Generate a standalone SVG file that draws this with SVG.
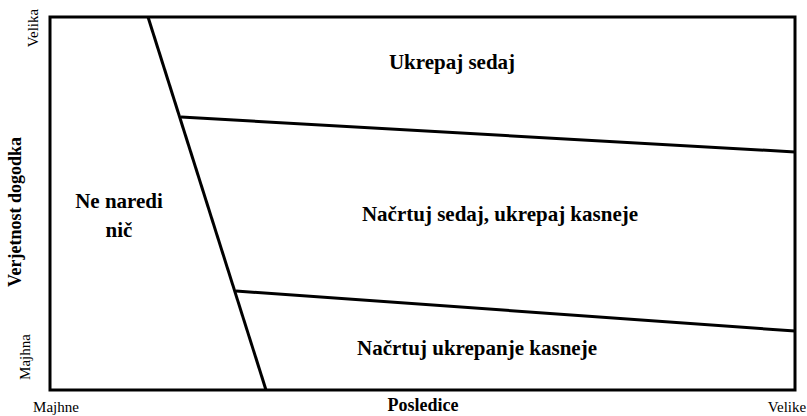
<svg xmlns="http://www.w3.org/2000/svg" width="807" height="416" viewBox="0 0 807 416">
  <style>
    .ln { stroke: #000; stroke-width: 3; fill: none; }
    .zone { font-family: 'Liberation Serif', serif; font-weight: bold; font-size: 21px; fill: #000; text-anchor: middle; }
    .axis { font-family: 'Liberation Serif', serif; font-size: 15px; fill: #000; text-anchor: middle; }
    .axisb { font-family: 'Liberation Serif', serif; font-weight: bold; font-size: 18px; fill: #000; text-anchor: middle; }
  </style>
  <rect width="807" height="416" fill="#fff"/>

  <!-- frame and zone boundaries -->
  <g id="connectors">
    <rect class="ln" x="50" y="17" width="745" height="373"/>
    <line class="ln" x1="148" y1="17" x2="266" y2="390"/>
    <line class="ln" x1="181" y1="117" x2="795" y2="152"/>
    <line class="ln" x1="236" y1="291" x2="795" y2="331"/>
  </g>

  <g id="zone-none">
    <text class="zone" x="119" y="208">Ne naredi</text>
    <text class="zone" x="119" y="237">nič</text>
  </g>
  <g id="zone-act-now">
    <text class="zone" x="452" y="69">Ukrepaj sedaj</text>
  </g>
  <g id="zone-plan-now">
    <text class="zone" x="500" y="221">Načrtuj sedaj, ukrepaj kasneje</text>
  </g>
  <g id="zone-plan-later">
    <text class="zone" x="477" y="355">Načrtuj ukrepanje kasneje</text>
  </g>

  <!-- axis labels -->
  <g id="axis-x">
    <text class="axis" x="56" y="412">Majhne</text>
    <text class="axisb" x="423" y="411">Posledice</text>
    <text class="axis" x="787" y="412">Velike</text>
  </g>
  <g id="axis-y">
    <text class="axis" transform="translate(38,28) rotate(-90)">Velika</text>
    <text class="axisb" transform="translate(21,212) rotate(-90)">Verjetnost dogodka</text>
    <text class="axis" transform="translate(30,357) rotate(-90)">Majhna</text>
  </g>
</svg>
